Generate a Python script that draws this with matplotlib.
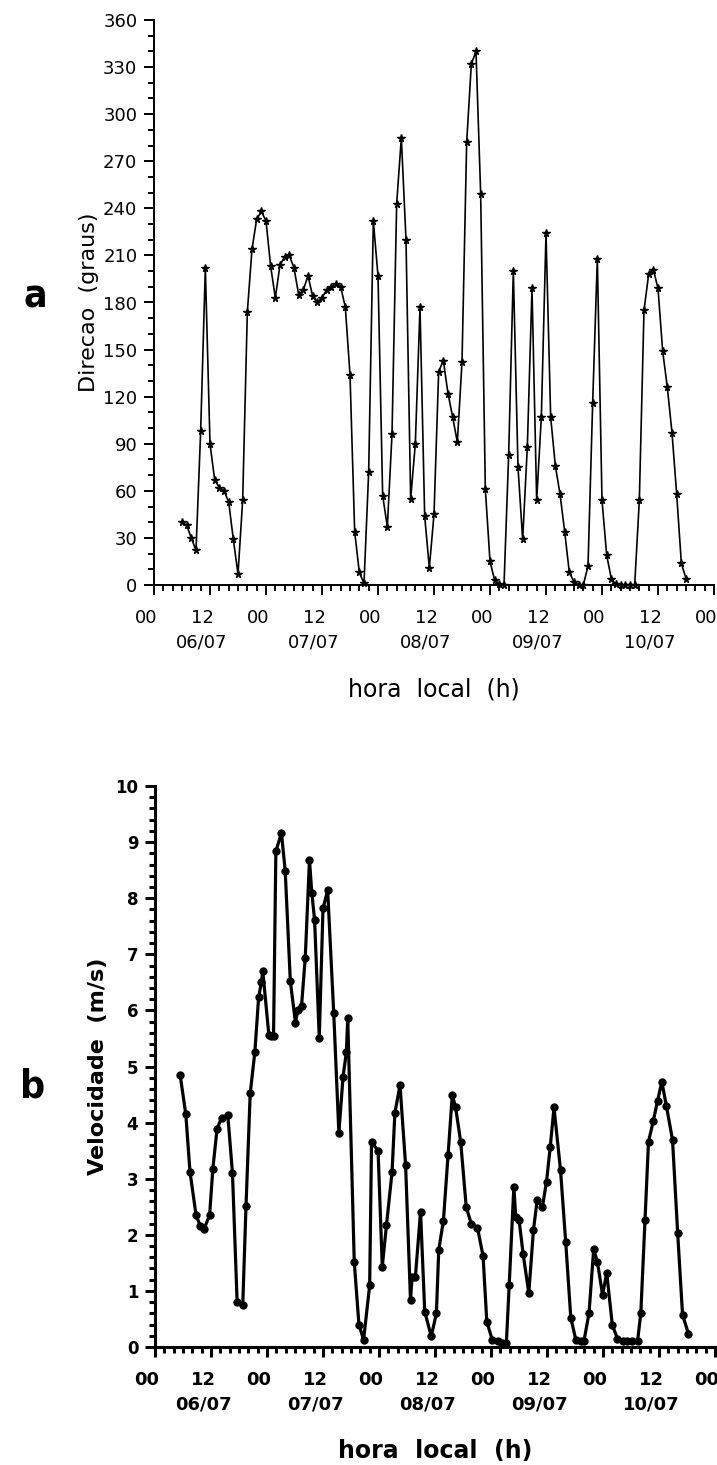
import numpy as np
import matplotlib.pyplot as plt
from matplotlib.ticker import MultipleLocator, FixedLocator
from matplotlib.transforms import ScaledTranslation

# hours counted from 06/07 00h
dir_hours = list(range(6, 115))
dir_deg = [40, 38, 30, 22, 98, 202, 90, 67, 62, 60, 53, 29, 7, 54, 174,
           214, 233, 238, 232, 203, 183, 204, 209, 210, 202, 185, 188, 197,
           184, 180, 183, 188, 190, 192, 190, 177, 134, 34, 8, 1, 72, 232,
           197, 57, 37, 96, 243, 285, 220, 55, 90, 177, 44, 11, 45, 136,
           143, 122, 107, 91, 142, 282, 332, 340, 249, 61, 15, 3, 0.5, 0,
           83, 200, 75, 29, 88, 189, 54, 107, 224, 107, 76, 58, 34, 8, 2,
           0, 0, 12, 116, 208, 54, 19, 4, 0.5, 0, 0, 0, 0, 54, 175, 198,
           201, 189, 149, 126, 97, 58, 14, 4]

vel_hours = [5.4, 6.6, 7.5, 8.8, 9.7, 10.5, 11.7, 12.4, 13.3, 14.3, 15.6,
             16.6, 17.6, 18.8, 19.5, 20.4, 21.4, 22.2, 22.8, 23.1, 24.4,
             24.9, 25.4, 25.9, 27.1, 27.9, 29.0, 30.1, 30.6, 31.4, 32.2,
             33.1, 33.6, 34.2, 35.2, 36.0, 37.0, 38.3, 39.4, 40.3, 41.0,
             41.3, 42.7, 43.7, 44.7, 46.0, 46.4, 47.8, 48.7, 49.6, 50.8,
             51.4, 52.5, 53.7, 54.75, 55.1, 55.8, 56.9, 57.8, 59.2, 60.3,
             60.8, 61.8, 62.8, 63.7, 64.4, 65.5, 66.7, 67.8, 69.1, 70.3,
             71.1, 72.3, 73.4, 74.4, 75.3, 75.9, 76.9, 77.3, 78.0, 78.9,
             80.1, 81.1, 81.9, 83.0, 83.9, 84.7, 85.5, 86.9, 88.0, 89.1,
             90.2, 91.2, 91.9, 93.0, 94.0, 94.8, 95.9, 96.8, 98.0, 99.1,
             100.2, 101.2, 102.3, 103.4, 104.1, 105.0, 105.75, 106.75,
             107.7, 108.6, 109.6, 110.9, 112.0, 113.05, 114.3]
vel_ms = [4.84, 4.15, 3.12, 2.35, 2.16, 2.10, 2.35, 3.18, 3.89, 4.09, 4.13,
          3.10, 0.80, 0.74, 2.51, 4.52, 5.26, 6.23, 6.50, 6.70, 5.56,
          5.55, 5.54, 8.84, 9.16, 8.49, 6.52, 5.78, 6.00, 6.08, 6.94,
          8.68, 8.10, 7.61, 5.51, 7.82, 8.14, 5.95, 3.82, 4.82, 5.25,
          5.86, 1.51, 0.40, 0.13, 1.10, 3.65, 3.50, 1.43, 2.17, 3.12,
          4.17, 4.67, 3.24, 0.84, 1.25, 1.25, 2.41, 0.63, 0.19, 0.60,
          1.73, 2.25, 3.42, 4.49, 4.28, 3.66, 2.49, 2.19, 2.13, 1.62,
          0.45, 0.12, 0.10, 0.08, 0.08, 1.11, 2.86, 2.32, 2.27, 1.65,
          0.96, 2.09, 2.62, 2.49, 2.95, 3.57, 4.27, 3.15, 1.88, 0.52,
          0.12, 0.10, 0.10, 0.60, 1.74, 1.52, 0.93, 1.32, 0.39, 0.15,
          0.10, 0.10, 0.10, 0.10, 0.60, 2.26, 3.66, 4.02, 4.39, 4.73,
          4.29, 3.69, 2.03, 0.57, 0.24]

days = ['06/07', '07/07', '08/07', '09/07', '10/07']
hour_ticks = list(range(0, 121, 12))
hour_labels = []
for t in hour_ticks:
    if t % 24 == 0:
        hour_labels.append('00')
    else:
        hour_labels.append('12\n' + days[t // 24])

fig = plt.figure(figsize=(7.17, 14.65), dpi=100)
ax1 = fig.add_axes([154/717, 1-585/1465, 560/717, 565/1465])
ax2 = fig.add_axes([155/717, 1-1347/1465, 560/717, 561/1465])


def style_axis(ax, weight, lw, xpad):
    for s in ['top', 'right']:
        ax.spines[s].set_visible(False)
    for s in ['left', 'bottom']:
        ax.spines[s].set_linewidth(lw)
    ax.set_xlim(0, 120)
    ax.xaxis.set_major_locator(FixedLocator(hour_ticks))
    ax.xaxis.set_minor_locator(MultipleLocator(2))
    ax.set_xticklabels(hour_labels, fontsize=13, fontweight=weight,
                       linespacing=1.5)
    ax.tick_params(which='major', direction='out', length=7, width=lw)
    ax.tick_params(which='minor', direction='out', length=4, width=lw)
    ax.tick_params(axis='x', which='major', pad=10)
    ax.tick_params(axis='y', which='major', pad=5)
    off = ScaledTranslation(-8/100, 0, fig.dpi_scale_trans)
    for lab in ax.xaxis.get_majorticklabels():
        lab.set_transform(lab.get_transform() + off)
    ax.set_xlabel('hora  local  (h)', fontsize=17, fontweight=weight,
                  labelpad=xpad)


# direction
ax1.plot(dir_hours, dir_deg, color='black', lw=1.2, marker='*',
         markersize=5.5, clip_on=False)
ax1.set_ylim(0, 360)
ax1.yaxis.set_major_locator(MultipleLocator(30))
ax1.yaxis.set_minor_locator(MultipleLocator(10))
style_axis(ax1, 'normal', 1.4, 19)
for lab in ax1.get_yticklabels():
    lab.set_fontsize(13)
ax1.set_ylabel('Direcao  (graus)', fontsize=16, labelpad=3)

# speed
ax2.plot(vel_hours, vel_ms, color='black', lw=2.3, marker='o',
         markersize=5, clip_on=False)
ax2.set_ylim(0, 10)
ax2.yaxis.set_major_locator(MultipleLocator(1))
ax2.yaxis.set_minor_locator(MultipleLocator(0.2))
style_axis(ax2, 'bold', 2.2, 18)
for lab in ax2.get_yticklabels():
    lab.set_fontsize(12)
    lab.set_fontweight('bold')
ax2.set_ylabel('Velocidade  (m/s)', fontsize=16, fontweight='bold',
               labelpad=5)

fig.text(35/717, 1-297/1465, 'a', fontsize=28, fontweight='black',
         fontstretch='condensed', ha='center', va='center')
fig.text(33/717, 1-1087/1465, 'b', fontsize=28, fontweight='black',
         fontstretch='condensed', ha='center', va='center')

fig.savefig('out.png', dpi=100)
